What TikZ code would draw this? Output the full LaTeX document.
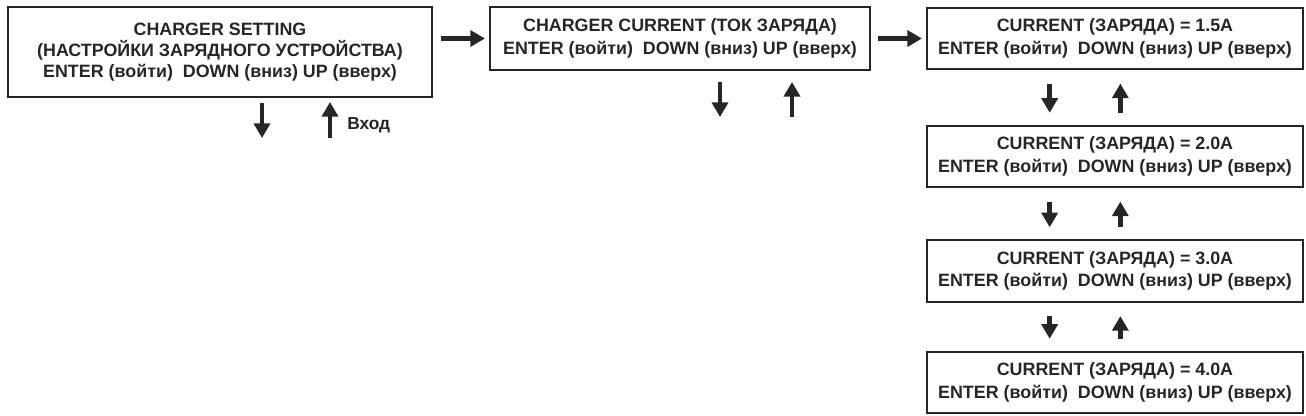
\documentclass[tikz,border=0pt]{standalone}
\usepackage{fontspec}
\setmainfont{Liberation Sans}
\usetikzlibrary{arrows.meta}
\definecolor{ink}{HTML}{262626}

\begin{document}
\begin{tikzpicture}[x=0.75pt,y=-0.75pt,
   menubox/.style={draw=ink,line width=1.6pt,align=center,font=\bfseries\fontsize{13.4}{17}\selectfont,
      text=ink,inner sep=0pt},
   move/.style={draw=ink,line width=3.4pt,-{Triangle[length=11pt,width=12pt]}}]
\useasboundingbox (0,0) rectangle (1306,415);
% main menu and the charge current submenu
\node[menubox,font=\bfseries\fontsize{13.4}{15.5}\selectfont,minimum width=318pt,minimum height=67pt] (setting) at (220,52)
   {CHARGER SETTING\\(НАСТРОЙКИ ЗАРЯДНОГО УСТРОЙСТВА)\\ENTER (войти)\ \ DOWN (вниз) UP (вверх)};
\node[menubox,minimum width=285pt,minimum height=47pt] (current) at (680,38.5)
   {CHARGER CURRENT (ТОК ЗАРЯДА)\\ENTER (войти)\ \ DOWN (вниз) UP (вверх)};
% the current values
\foreach \name/\val/\y in {a15/1.5/38.5, a20/2.0/156.5, a30/3.0/271, a40/4.0/382.5}
   \node[menubox,minimum width=282pt,minimum height=46pt] (\name) at (1115,\y)
      {CURRENT (ЗАРЯДА) = \val A\\ENTER (войти)\ \ DOWN (вниз) UP (вверх)};
\draw[move] (setting.east |- current.west) ++(6pt,0) coordinate (s1) -- ([xshift=-3pt]current.west);
\draw[move] ([xshift=5pt]current.east) -- ([xshift=-3pt]a15.west);
% free arrows below the first two boxes
\coordinate (sd1) at (262,103); \coordinate (sd2) at (262,138);
\coordinate (su1) at (330,138); \coordinate (su2) at (330,102);
\draw[move] (sd1) -- (sd2);
\draw[move] (su1) -- (su2) node[right=8pt,pos=0.35,font=\bfseries\fontsize{13}{14}\selectfont,text=ink] (vhod) {Вход};
\coordinate (cd1) at (720,82); \coordinate (cd2) at (720,117);
\coordinate (cu1) at (792,117); \coordinate (cu2) at (792,82);
\draw[move] (cd1) -- (cd2);
\draw[move] (cu1) -- (cu2);
% up and down between the values
\foreach \top/\bot in {a15/a20, a20/a30, a30/a40}{
   \draw[move] ([xshift=-49pt,yshift=-10pt]\top.south) -- ([xshift=-49pt,yshift=9pt]\bot.north);
   \draw[move] ([xshift=4pt,yshift=9pt]\bot.north) -- ([xshift=4pt,yshift=-10pt]\top.south);
}
\end{tikzpicture}
\end{document}
